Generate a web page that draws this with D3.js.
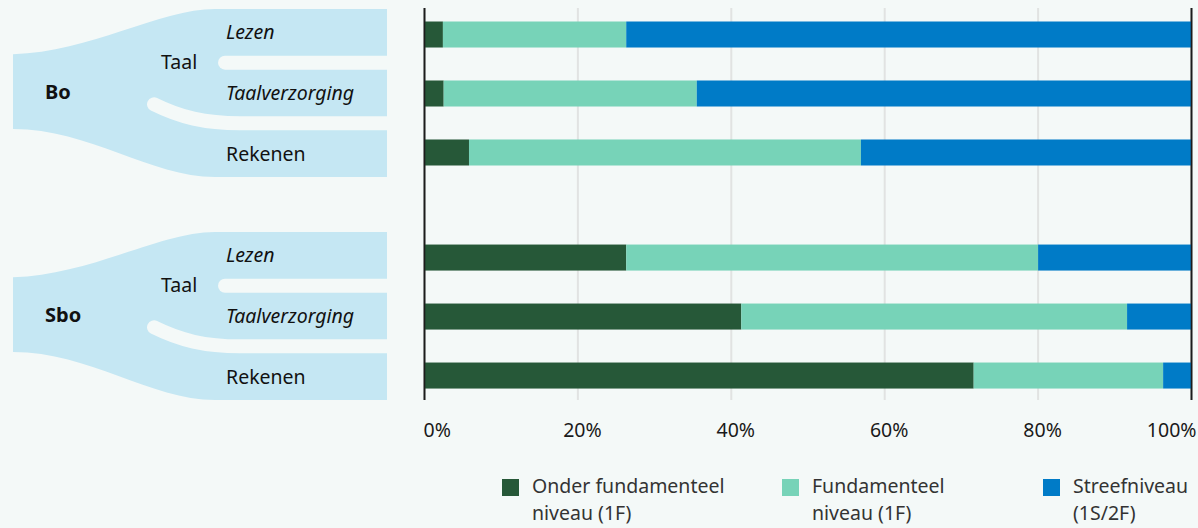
<!DOCTYPE html>
<html>
<head>
<meta charset="utf-8">
<script src="https://cdn.jsdelivr.net/npm/d3@7"></script>
<style>
  html, body { margin: 0; padding: 0; background: #f4f9f8; }
  svg { display: block; font-family: "Noto Sans", "Open Sans", sans-serif; }
</style>
</head>
<body>
<div id="chart"></div>
<script>
// data
var groups = ["Bo", "Sbo"];
var subjects = ["Lezen", "Taalverzorging", "Rekenen"];
var italicSubjects = ["Lezen", "Taalverzorging"];
var levels = ["Onder fundamenteel niveau (1F)", "Fundamenteel niveau (1F)", "Streefniveau (1S/2F)"];
var legendLines = [["Onder fundamenteel", "niveau (1F)"], ["Fundamenteel", "niveau (1F)"], ["Streefniveau", "(1S/2F)"]];
var onder = [2.4, 2.5, 5.8, 26.3, 41.3, 71.6];
var fundamenteel = [23.9, 33.0, 51.1, 53.7, 50.3, 24.7];
var streef = [73.7, 64.5, 43.1, 20.0, 8.4, 3.7];
var tickValues = [0, 20, 40, 60, 80, 100];

var colors = ["#265838", "#77d3b8", "#007bc7"];

var width = 1198, height = 528;
var svg = d3.select("#chart").append("svg")
    .attr("width", width)
    .attr("height", height);

svg.append("rect").attr("width", width).attr("height", height).attr("fill", "#f4f9f8");

// scales
var x = d3.scaleLinear().domain([0, 100]).range([424.5, 1191.5]);
var yGroup = d3.scaleBand().domain(groups).range([9, 400]).paddingInner(0.247).paddingOuter(0);
var ySub = d3.scaleBand().domain(subjects).range([0, yGroup.bandwidth()]).paddingInner(0.23).paddingOuter(0);
var yBar = d3.scaleBand().domain(subjects).range([12.5, 156.5]).paddingInner(0.559).paddingOuter(0);

// rows
var rows = [];
groups.forEach(function(g, gi) {
    subjects.forEach(function(s, si) {
        var i = gi * subjects.length + si;
        rows.push({group: g, subject: s, values: [onder[i], fundamenteel[i], streef[i]]});
    });
});

////////////////////////
//left tree-like shape//
////////////////////////
groups.forEach(function(g) {
    var top = yGroup(g);
    var b = yGroup.bandwidth();
    var g0 = svg.append("g").attr("transform", "translate(0," + top + ")");
    var r = ySub.bandwidth();
    var yL = ySub("Lezen"), yT = ySub("Taalverzorging"), yR = ySub("Rekenen");
    var midTop = yL + r - 1.5;   // left block top
    var midBot = b - 48;         // left block bottom

    g0.append("path")
        .attr("d", "M13," + midTop +
            " C90," + (midTop - 2) + " 160,0 215,0" +
            " L387,0 L387," + b +
            " L215," + b +
            " C150," + b + " 90," + midBot + " 13," + midBot + " Z")
        .attr("fill", "#c5e7f3");

    // gap between Lezen and Taalverzorging
    var gap1 = (yL + r + yT) / 2;
    g0.append("path")
        .attr("d", "M225," + gap1 + " L395," + gap1)
        .attr("stroke", "#f4f9f8")
        .attr("stroke-width", yT - yL - r)
        .attr("stroke-linecap", "round")
        .attr("fill", "none");

    // gap between Taal and Rekenen
    var gap2 = (yT + r + yR) / 2;
    g0.append("path")
        .attr("d", "M154," + (gap2 - 19) + " C180," + (gap2 - 6) + " 205," + gap2 + " 240," + gap2 + " L395," + gap2)
        .attr("stroke", "#f4f9f8")
        .attr("stroke-width", yR - yT - r)
        .attr("stroke-linecap", "round")
        .attr("fill", "none");

    g0.append("text")
        .attr("x", 45)
        .attr("y", (midTop + midBot) / 2 + 7)
        .style("font-size", "20px")
        .style("font-weight", "bold")
        .attr("fill", "#111")
        .text(g);

    g0.append("text")
        .attr("x", 161)
        .attr("y", gap1 + 6.5)
        .style("font-size", "19.5px")
        .attr("fill", "#111")
        .text("Taal");

    subjects.forEach(function(s) {
        g0.append("text")
            .attr("x", 226)
            .attr("y", ySub(s) + r / 2 + 7)
            .style("font-size", "19.5px")
            .style("font-style", italicSubjects.indexOf(s) >= 0 ? "italic" : "normal")
            .attr("fill", "#111")
            .text(s);
    });
});

//////////////
//grid lines//
//////////////
svg.append("g").selectAll("line")
    .data(tickValues).enter()
    .append("line")
    .attr("x1", function(d) { return x(d); })
    .attr("x2", function(d) { return x(d); })
    .attr("y1", 8)
    .attr("y2", 400)
    .attr("stroke", function(d) { return (d === 0 || d === 100) ? "#1c1c1c" : "#e1e3e2"; })
    .attr("stroke-width", function(d) { return (d === 0 || d === 100) ? 1.6 : 2; });

////////
//bars//
////////
var stack = rows.map(function(r) {
    var acc = 0;
    return r.values.map(function(v, i) {
        var seg = {row: r, i: i, x0: acc, x1: acc + v};
        acc += v;
        return seg;
    });
});

var bar = svg.append("g").selectAll("g")
    .data(rows).enter()
    .append("g")
    .attr("transform", function(d) {
        return "translate(0," + (yGroup(d.group) + yBar(d.subject)) + ")";
    });

bar.selectAll("rect")
    .data(function(d, i) { return stack[i]; }).enter()
    .append("rect")
    .attr("x", function(d) { return x(d.x0); })
    .attr("width", function(d) { return x(d.x1) - x(d.x0); })
    .attr("height", yBar.bandwidth())
    .attr("fill", function(d) { return colors[d.i]; });

// redraw axis lines on top of bars
svg.append("g").selectAll("line")
    .data([0, 100]).enter()
    .append("line")
    .attr("x1", function(d) { return x(d); })
    .attr("x2", function(d) { return x(d); })
    .attr("y1", 8)
    .attr("y2", 400)
    .attr("stroke", "#1c1c1c")
    .attr("stroke-width", 1.6);

///////////////
//tick labels//
///////////////
svg.append("g").selectAll("text")
    .data(tickValues).enter()
    .append("text")
    .attr("x", function(d, i) {
        if (i === 0) return x(d) - 1;
        if (i === tickValues.length - 1) return x(d) + 5;
        return x(d) + 4.5;
    })
    .attr("y", 437)
    .style("text-anchor", function(d, i) {
        if (i === 0) return "start";
        if (i === tickValues.length - 1) return "end";
        return "middle";
    })
    .style("font-size", "19.5px")
    .attr("fill", "#1a1a1a")
    .text(function(d) { return d + "%"; });

//////////
//legend//
//////////
var legendX = [502, 782, 1043];
var legend = svg.append("g").selectAll("g")
    .data(levels).enter()
    .append("g")
    .attr("transform", function(d, i) { return "translate(" + legendX[i] + ",479)"; });

legend.append("rect")
    .attr("width", 17)
    .attr("height", 17)
    .attr("fill", function(d, i) { return colors[i]; });

legend.append("text")
    .attr("x", 30)
    .attr("y", 14)
    .style("font-size", "19.5px")
    .attr("fill", "#333")
    .selectAll("tspan")
    .data(function(d, i) { return legendLines[i]; }).enter()
    .append("tspan")
    .attr("x", 30)
    .attr("dy", function(d, j) { return j === 0 ? 0 : 27; })
    .text(function(d) { return d; });
</script>
</body>
</html>
